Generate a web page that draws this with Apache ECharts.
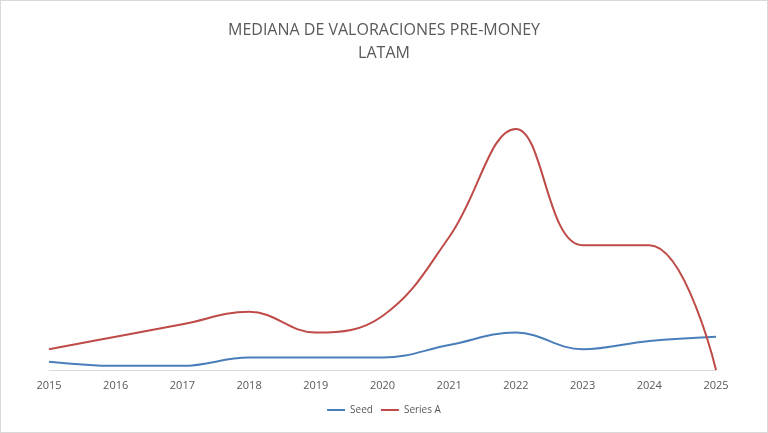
<!DOCTYPE html>
<html>
<head>
<meta charset="utf-8">
<title>Mediana de valoraciones</title>
<script src="https://cdn.jsdelivr.net/npm/echarts@6/dist/echarts.min.js"></script>
<style>
  html, body { margin: 0; padding: 0; background: #fff; }
  #container { width: 766px; height: 431px; border: 1px solid #d9d9d9; }
</style>
</head>
<body>
<div id="container"></div>
<script>
var years = ['2015','2016','2017','2018','2019','2020','2021','2022','2023','2024','2025'];
var seed = [2, 1, 1, 3, 3, 3, 6, 9, 5, 7, 8];
var seriesA = [5, 8, 11, 14, 9, 13, 32, 58, 30, 30, 0];

var myChart = echarts.init(document.getElementById('container'));

function labelFor(color) {
    return {
        show: true,
        position: 'inside',
        color: color,
        fontWeight: 'bold',
        fontSize: 11,
        fontFamily: 'Open Sans',
        backgroundColor: '#fff',
        padding: [1, 2]
    };
}

var option = {
    title: {
        text: 'MEDIANA DE VALORACIONES PRE-MONEY\nLATAM',
        left: 'center',
        top: 13,
        textStyle: { color: '#595959', fontSize: 16, fontWeight: 'normal', fontFamily: 'Open Sans', lineHeight: 23 }
    },
    legend: {
        bottom: 12,
        itemWidth: 18,
        itemHeight: 2,
        icon: 'rect',
        textStyle: { color: '#595959', fontSize: 10, fontFamily: 'Open Sans' },
        data: ['Seed', 'Series A']
    },
    grid: { left: 48, right: 51, top: 78, bottom: 62 },
    xAxis: {
        type: 'category',
        data: years,
        boundaryGap: false,
        axisLine: { lineStyle: { color: '#d9d9d9' } },
        axisTick: { show: false },
        axisLabel: { color: '#595959', fontSize: 11, fontFamily: 'Open Sans', margin: 10 }
    },
    yAxis: {
        type: 'value',
        min: 0,
        max: 70,
        show: false,
        splitLine: { show: false }
    },
    series: [
        {
            name: 'Seed',
            type: 'line',
            smooth: 0.4,
            data: seed,
            symbol: 'none',
            color: '#4a7ebb',
            lineStyle: { width: 2 },
            label: labelFor('#4a7ebb')
        },
        {
            name: 'Series A',
            type: 'line',
            smooth: 0.4,
            data: seriesA,
            symbol: 'none',
            color: '#be4b48',
            lineStyle: { width: 2 },
            label: labelFor('#be4b48')
        }
    ]
};

myChart.setOption(option);
window.addEventListener('resize', myChart.resize);
</script>
</body>
</html>
